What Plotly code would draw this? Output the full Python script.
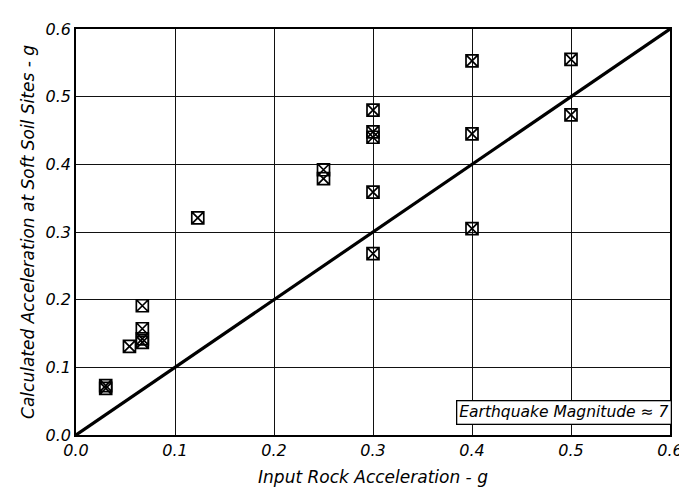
import plotly.graph_objects as go

# Data
rock_acc = [0.03, 0.03, 0.054, 0.067, 0.067, 0.067, 0.067, 0.123,
            0.25, 0.25, 0.30, 0.30, 0.30, 0.30, 0.30,
            0.40, 0.40, 0.40, 0.50, 0.50]
soil_acc = [0.069, 0.073, 0.131, 0.191, 0.157, 0.142, 0.137, 0.321,
            0.392, 0.379, 0.480, 0.448, 0.440, 0.359, 0.268,
            0.553, 0.445, 0.305, 0.555, 0.473]
line_x = [0.0, 0.6]
line_y = [0.0, 0.6]
tick_vals = [0.0, 0.1, 0.2, 0.3, 0.4, 0.5, 0.6]
tick_text = ["0.0", "0.1", "0.2", "0.3", "0.4", "0.5", "0.6"]

FONT = "DejaVu Sans, Verdana, sans-serif"

fig = go.Figure()
fig.add_trace(go.Scatter(x=line_x, y=line_y, mode="lines",
                         line=dict(color="black", width=3.2), showlegend=False))
fig.add_trace(go.Scatter(x=rock_acc, y=soil_acc, mode="markers",
                         marker=dict(symbol="square-x-open", size=12, color="black",
                                     line=dict(width=1.7, color="black")),
                         showlegend=False))

axis_common = dict(
    range=[0, 0.6], tickvals=tick_vals, ticktext=tick_text,
    showgrid=True, gridcolor="#111111", gridwidth=1,
    showline=True, linecolor="black", linewidth=1.5, mirror=True,
    zeroline=False, ticks="",
    tickfont=dict(family=FONT, size=16, color="black", style="italic"),
)

fig.update_xaxes(**axis_common,
                 title=dict(text="Input Rock Acceleration - g", standoff=12,
                            font=dict(family=FONT, size=17, color="black", style="italic")))
fig.update_yaxes(**axis_common,
                 title=dict(text="Calculated Acceleration at Soft Soil Sites - g", standoff=7,
                            font=dict(family=FONT, size=17, color="black", style="italic")))

fig.add_annotation(x=1.004, y=0.024, xref="paper", yref="paper", xanchor="right", yanchor="bottom",
                   text="Earthquake Magnitude ≈ 7", showarrow=False,
                   font=dict(family=FONT, size=15.5, color="black", style="italic"),
                   bordercolor="black", borderwidth=1.3, borderpad=2, bgcolor="white")

fig.update_layout(width=687, height=496, margin=dict(l=68, r=24, t=16, b=69),
                  plot_bgcolor="white", paper_bgcolor="white",
                  font=dict(family=FONT, color="black"))

fig.write_html("out.html")
